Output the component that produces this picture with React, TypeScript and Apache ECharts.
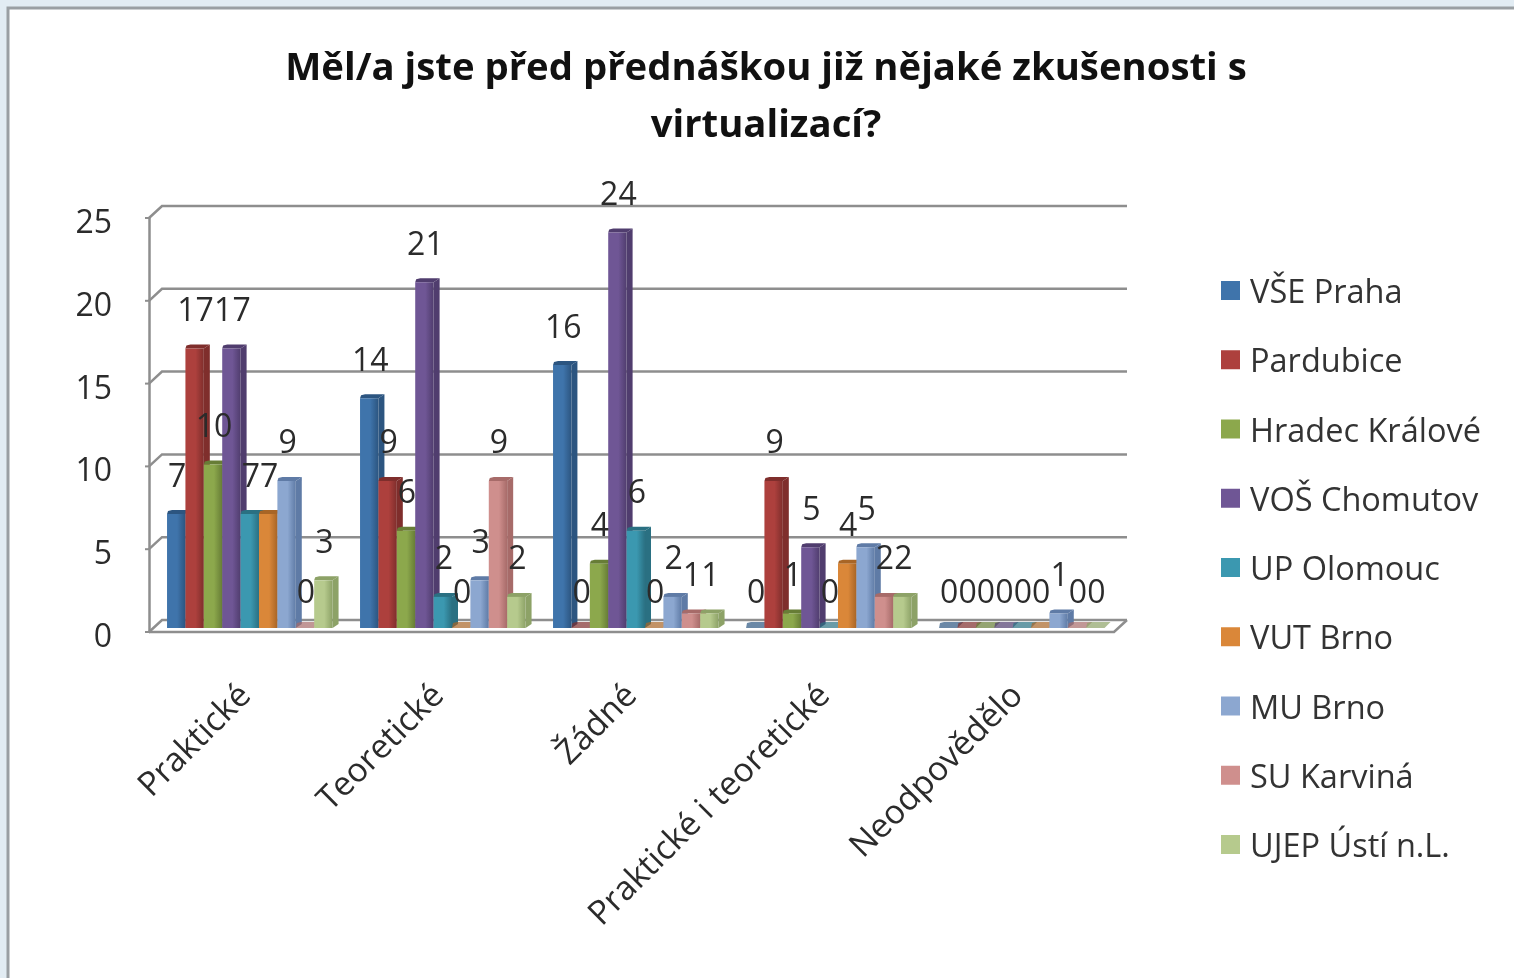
import React, { useEffect, useRef } from "react";
import * as echarts from "echarts";

const titleText = "Měl/a jste před přednáškou již nějaké zkušenosti s\nvirtualizací?";
const categories = ["Praktické", "Teoretické", "Žádné", "Praktické i teoretické", "Neodpovědělo"];
const yTicks = [0, 5, 10, 15, 20, 25];

const vsePraha = [7, 14, 16, 0, 0];
const pardubice = [17, 9, 0, 9, 0];
const hradec = [10, 6, 4, 1, 0];
const chomutov = [17, 21, 24, 5, 0];
const olomouc = [7, 2, 6, 0, 0];
const vutBrno = [7, 0, 0, 4, 0];
const muBrno = [9, 3, 2, 5, 1];
const karvina = [0, 9, 1, 2, 0];
const usti = [3, 2, 1, 2, 0];

const schools = [
  { name: "VŠE Praha", values: vsePraha, front: "#3f74ab", dark: "#2c5580" },
  { name: "Pardubice", values: pardubice, front: "#ad403d", dark: "#7f2e2c" },
  { name: "Hradec Králové", values: hradec, front: "#8ca84c", dark: "#677d36" },
  { name: "VOŠ Chomutov", values: chomutov, front: "#6f5695", dark: "#503d6e" },
  { name: "UP Olomouc", values: olomouc, front: "#3b98b0", dark: "#2a7082" },
  { name: "VUT Brno", values: vutBrno, front: "#da8739", dark: "#a86526" },
  { name: "MU Brno", values: muBrno, front: "#8ca7d0", dark: "#5f7ba6" },
  { name: "SU Karviná", values: karvina, front: "#cf8f8d", dark: "#a76b69" },
  { name: "UJEP Ústí n.L.", values: usti, front: "#b6ca8d", dark: "#8da267" },
];

const FONT = "'Open Sans', sans-serif";
const TEXT_COLOR = "#2b2b2b";
const WALL = "#8e8e8e";
const DEPTH_X = 13;
const DEPTH_Y = 12;

function buildOption() {
  const wallSeries = {
    type: "custom",
    name: "walls",
    silent: true,
    clip: false,
    z: 1,
    data: yTicks.map((t) => [t]),
    encode: { y: 0 },
    renderItem: (params: any, api: any) => {
      const v = api.value(0);
      const left = api.coord([0, v]);
      const catW = api.size([1, 0])[0];
      const x0 = left[0] - catW / 2;
      const x1 = x0 + catW * categories.length;
      const y = left[1];
      const children: any[] = [
        {
          type: "polyline",
          shape: {
            points: [
              [x0, y],
              [x0 + DEPTH_X, y - DEPTH_Y],
              [x1 + DEPTH_X, y - DEPTH_Y],
            ],
          },
          style: { stroke: WALL, lineWidth: 2.5, fill: "none" },
        },
        {
          type: "line",
          shape: { x1: x0 - 4, y1: y, x2: x0, y2: y },
          style: { stroke: WALL, lineWidth: 2 },
        },
        {
          type: "text",
          style: {
            x: x0 - 37,
            y: y + 2.5,
            text: String(v),
            fill: TEXT_COLOR,
            font: `32px ${FONT}`,
            align: "right",
            verticalAlign: "middle",
          },
        },
      ];
      if (v === 0) {
        children.push({
          type: "polyline",
          shape: {
            points: [
              [x0, y],
              [x1, y],
              [x1 + DEPTH_X, y - DEPTH_Y],
            ],
          },
          style: { stroke: WALL, lineWidth: 2.5, fill: "none" },
        });
      }
      return { type: "group", children };
    },
  };

  const barSeries = schools.map((s, i) => ({
    type: "custom",
    name: s.name,
    clip: false,
    z: 2,
    itemStyle: { color: s.front },
    encode: { x: 0, y: 1 },
    data: s.values.map((v, c) => [c, v]),
    renderItem: (params: any, api: any) => {
      const c = api.value(0);
      const v = api.value(1);
      const top = api.coord([c, v]);
      const base = api.coord([c, 0]);
      const catW = api.size([1, 0])[0];
      const w = catW * 0.0953;
      const x = top[0] + (i - 4.5) * w + 4.3;
      const yLabel = top[1] - 2;
      const yB = base[1] - 4;
      const yT = Math.min(yLabel, yB);
      const dx = 6;
      const dy = v === 0 ? 6 : 4;
      const opacity = v === 0 ? 0.7 : 1;
      return {
        type: "group",
        children: [
          {
            type: "polygon",
            shape: { points: [[x + w, yT], [x + w + dx, yT - dy], [x + w + dx, yB - dy], [x + w, yB]] },
            style: { fill: s.dark, opacity },
          },
          {
            type: "polygon",
            shape: { points: [[x + 1, yT - dy + 1], [x + dx - 1, yT - dy], [x + w + dx, yT - dy], [x + w, yT], [x, yT]] },
            style: { fill: s.dark, opacity },
          },
          {
            type: "rect",
            shape: { x, y: yT, width: w, height: yB - yT },
            style: {
              fill: new echarts.graphic.LinearGradient(0, 0, 1, 0, [
                { offset: 0, color: s.front },
                { offset: 0.55, color: s.front },
                { offset: 1, color: s.dark },
              ]),
            },
          },
          {
            type: "text",
            z2: 100,
            style: {
              x: x + w / 2 + 1,
              y: yLabel - 40,
              text: String(v),
              fill: TEXT_COLOR,
              font: `32px ${FONT}`,
              align: "center",
              verticalAlign: "middle",
            },
          },
        ],
      };
    },
  }));

  return {
    animation: false,
    backgroundColor: "#e2ecf3",
    color: schools.map((s) => s.front),
    title: {
      text: titleText,
      left: 761,
      top: 31,
      textAlign: "center",
      textStyle: {
        fontFamily: FONT,
        fontSize: 38.3,
        fontWeight: "bold",
        color: "#111111",
        lineHeight: 57,
      },
    },
    legend: {
      orient: "vertical",
      left: 1221,
      top: 274,
      padding: 0,
      icon: "rect",
      itemWidth: 19,
      itemHeight: 19,
      itemGap: 36.25,
      data: schools.map((s) => s.name),
      selectedMode: false,
      textStyle: { fontFamily: FONT, fontSize: 32.5, color: "#333333", padding: [0, 0, 0, 5] },
    },
    grid: { left: 149, right: 1514 - 1114, top: 218, bottom: 978 - 632 },
    xAxis: {
      type: "category",
      data: categories,
      axisLine: { show: false },
      axisTick: { show: false },
      axisLabel: {
        interval: 0,
        rotate: 45,
        margin: 54,
        fontFamily: FONT,
        fontSize: 33.5,
        color: TEXT_COLOR,
        padding: [0, 3, 0, 0],
      },
    },
    yAxis: {
      type: "value",
      min: 0,
      max: 25,
      interval: 5,
      axisLine: { show: true, lineStyle: { color: WALL, width: 2.5 } },
      axisTick: { show: false },
      splitLine: { show: false },
      axisLabel: { show: false },
    },
    graphic: [
      {
        type: "rect",
        z: -1,
        silent: true,
        shape: { x: 8, y: 8, width: 1600, height: 1100 },
        style: { fill: "#ffffff", stroke: "#9a9fa3", lineWidth: 3 },
      },
    ],
    series: [wallSeries, ...barSeries],
  };
}

export default function App() {
  const ref = useRef<HTMLDivElement>(null);
  useEffect(() => {
    document.body.style.margin = "0";
    const chart = echarts.init(ref.current!, undefined, { renderer: "svg" });
    chart.setOption(buildOption() as any);
    return () => chart.dispose();
  }, []);
  return <div ref={ref} style={{ width: 1514, height: 978, filter: "blur(0.6px)" }} />;
}
